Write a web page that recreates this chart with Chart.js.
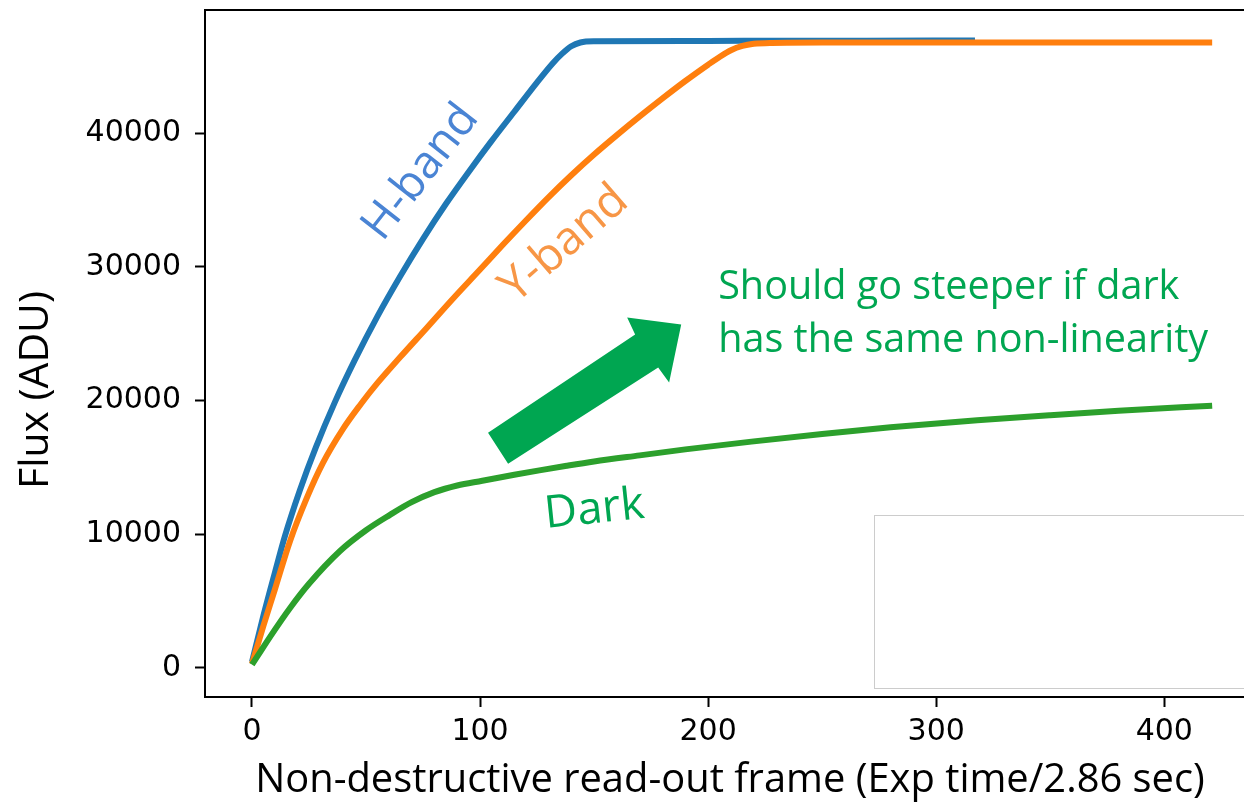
<!DOCTYPE html>
<html><head><meta charset="utf-8">
<script src="https://cdn.jsdelivr.net/npm/chart.js@4/dist/chart.umd.min.js"></script>
<style>html,body{margin:0;padding:0;background:#fff;overflow:hidden;}
#wrap{position:relative;width:1270px;height:803px;}</style></head>
<body><div id="wrap"><canvas id="c" width="1270" height="803"></canvas></div>
<script>
// ---- data ----
const xTicks = [0, 100, 200, 300, 400];
const yTicks = [0, 10000, 20000, 30000, 40000];

const hFrames = [0, 5, 10, 14.5, 21, 28, 36.4, 45, 55, 65, 75, 85, 95, 105, 115, 125, 132, 136, 140, 144, 150, 200, 250, 300, 317];
const hFlux   = [450, 3900, 7100, 9900, 13300, 16500, 19900, 23000, 26300, 29300, 32100, 34700, 37100, 39400, 41600, 43800, 45250, 45950, 46500, 46780, 46870, 46900, 46910, 46930, 46930];

const yFrames = [0, 5, 10, 16.7, 24, 31, 40, 48, 53, 65, 76.8, 88, 100, 110, 120, 130, 140, 150, 160, 170, 180, 190, 200, 205, 210, 215, 220, 228, 250, 300, 360, 421];
const yFlux   = [300, 3150, 5850, 9500, 12700, 15300, 17900, 19800, 20900, 23250, 25470, 27600, 29800, 31650, 33450, 35200, 36850, 38400, 39850, 41250, 42600, 43900, 45120, 45700, 46200, 46520, 46680, 46750, 46780, 46780, 46780, 46780];

const dFrames = [0, 4, 8, 16.7, 25, 38.6, 50, 60.5, 70, 80, 90, 101, 115, 126, 138, 150, 170, 190, 219, 250, 280, 318, 350, 380, 421];
const dFlux   = [250, 1300, 2350, 4490, 6300, 8750, 10300, 11450, 12400, 13150, 13650, 14000, 14450, 14780, 15120, 15440, 15900, 16350, 16930, 17500, 18000, 18520, 18900, 19230, 19620];

const seriesNames = ['H-band', 'Y-band', 'Dark'];
const xTitle = 'Non-destructive read-out frame (Exp time/2.86 sec)';
const yTitle = 'Flux (ADU)';
const noteLines = ['Should go steeper if dark', 'has the same non-linearity'];

// ---- annotation placement (data units) ----
const labelSpecs = [
  {text: seriesNames[0], x: 72.8, y: 37230, angle: -52, width: 158, color: '#4a84d4'},
  {text: seriesNames[1], x: 136, y: 31900, angle: -41, width: 152, color: '#f79646'},
  {text: seriesNames[2], x: 150, y: 12060, angle: -6, width: 100, color: '#00a651'}
];
const noteSpec = {x: 204.4, y1: 27570, y2: 23600, width: 490, color: '#00a651'};
const arrowX = [103.5, 168.0, 164.5, 188.2, 182.9, 178.1, 112.3];
const arrowY = [17600, 24940, 26220, 25690, 21350, 22470, 15280];
const boxSpec = {x0: 272.8, x1: 470, y0: -1500, y1: 11460};

const TXT = '"Open Sans", "Noto Sans", sans-serif';
const mctx = document.createElement('canvas').getContext('2d');
function fit(text, w, fam) { mctx.font = '100px ' + fam; return 100 * w / mctx.measureText(text).width; }

const pts = (xs, ys) => xs.map((v, i) => ({x: v, y: ys[i]}));

const annot = {
  id: 'annot',
  afterDatasetsDraw(chart) {
    const {ctx, chartArea: ca, scales: {x, y}} = chart;
    ctx.save();
    ctx.beginPath(); ctx.rect(ca.left, ca.top, ca.right - ca.left, ca.bottom - ca.top); ctx.clip();
    const bx0 = Math.round(x.getPixelForValue(boxSpec.x0)) + 0.5, bx1 = x.getPixelForValue(boxSpec.x1);
    const by0 = Math.round(y.getPixelForValue(boxSpec.y1)) + 0.5, by1 = Math.round(y.getPixelForValue(boxSpec.y0)) + 0.5;
    ctx.fillStyle = '#fff'; ctx.fillRect(bx0, by0, bx1 - bx0, by1 - by0);
    ctx.strokeStyle = '#cccccc'; ctx.lineWidth = 1; ctx.strokeRect(bx0, by0, bx1 - bx0, by1 - by0);
    ctx.fillStyle = noteSpec.color;
    ctx.beginPath();
    arrowX.forEach((v, i) => { const px = x.getPixelForValue(v), py = y.getPixelForValue(arrowY[i]); i ? ctx.lineTo(px, py) : ctx.moveTo(px, py); });
    ctx.closePath(); ctx.fill();
    labelSpecs.forEach(s => {
      const size = fit(s.text, s.width, TXT);
      ctx.save();
      ctx.translate(x.getPixelForValue(s.x), y.getPixelForValue(s.y));
      ctx.rotate(s.angle * Math.PI / 180);
      ctx.font = size + 'px ' + TXT; ctx.fillStyle = s.color;
      ctx.textAlign = 'center'; ctx.textBaseline = 'alphabetic';
      ctx.fillText(s.text, 0, size * 0.36);
      ctx.restore();
    });
    const ns = fit(noteLines[1], noteSpec.width, TXT);
    ctx.font = ns + 'px ' + TXT; ctx.fillStyle = noteSpec.color;
    ctx.textAlign = 'left'; ctx.textBaseline = 'alphabetic';
    ctx.fillText(noteLines[0], x.getPixelForValue(noteSpec.x), y.getPixelForValue(noteSpec.y1));
    ctx.fillText(noteLines[1], x.getPixelForValue(noteSpec.x), y.getPixelForValue(noteSpec.y2));
    ctx.restore();
  },
  afterDraw(chart) {
    const {ctx, chartArea: ca} = chart;
    ctx.save();
    ctx.strokeStyle = '#000'; ctx.lineWidth = 2;
    ctx.beginPath(); ctx.moveTo(ca.left - 1, ca.top); ctx.lineTo(ca.right, ca.top); ctx.lineTo(ca.right, ca.bottom); ctx.stroke();
    const xs = fit(xTitle, 950, TXT);
    ctx.font = xs + 'px ' + TXT; ctx.fillStyle = '#000';
    ctx.textAlign = 'center'; ctx.textBaseline = 'alphabetic';
    ctx.fillText(xTitle, 730, 792);
    const ys = fit(yTitle, 198, TXT);
    ctx.translate(48, 390); ctx.rotate(-Math.PI / 2);
    ctx.font = ys + 'px ' + TXT;
    ctx.fillText(yTitle, 0, 0);
    ctx.restore();
  }
};

new Chart(document.getElementById('c'), {
  type: 'line',
  data: {
    datasets: [
      {label: seriesNames[0], data: pts(hFrames, hFlux), borderColor: '#1f77b4', backgroundColor: '#1f77b4', borderWidth: 6, pointRadius: 0, cubicInterpolationMode: 'monotone', order: 3},
      {label: seriesNames[1], data: pts(yFrames, yFlux), borderColor: '#ff7f0e', backgroundColor: '#ff7f0e', borderWidth: 6, pointRadius: 0, cubicInterpolationMode: 'monotone', order: 2},
      {label: seriesNames[2], data: pts(dFrames, dFlux), borderColor: '#2ca02c', backgroundColor: '#2ca02c', borderWidth: 6, pointRadius: 0, cubicInterpolationMode: 'monotone', order: 1}
    ]
  },
  options: {
    responsive: false, animation: false, devicePixelRatio: 1,
    layout: {padding: {top: 10, right: 12, left: 0, bottom: 0}},
    plugins: {legend: {display: false}, tooltip: {enabled: false}},
    scales: {
      x: {
        type: 'linear', min: -20.6, max: 441.1,
        afterBuildTicks: s => { s.ticks = xTicks.map(v => ({value: v})); },
        afterFit: s => { s.height = 106; s.paddingLeft = 0; s.paddingRight = 0; },
        ticks: {font: {family: 'DejaVu Sans', size: 30}, color: '#000', padding: 7, maxRotation: 0, autoSkip: false, callback: v => String(v)},
        grid: {drawOnChartArea: false, drawTicks: true, tickLength: 10, tickWidth: 2, tickColor: '#000'},
        border: {display: true, color: '#000', width: 2}
      },
      y: {
        type: 'linear', min: -2170, max: 49210,
        afterBuildTicks: s => { s.ticks = yTicks.map(v => ({value: v})); },
        afterFit: s => { s.width = 205; s.paddingTop = 0; s.paddingBottom = 0; },
        ticks: {font: {family: 'DejaVu Sans', size: 30}, color: '#000', padding: 14, autoSkip: false, callback: v => String(v)},
        grid: {drawOnChartArea: false, drawTicks: true, tickLength: 10, tickWidth: 2, tickColor: '#000'},
        border: {display: true, color: '#000', width: 2}
      }
    }
  },
  plugins: [annot]
});
</script></body></html>
